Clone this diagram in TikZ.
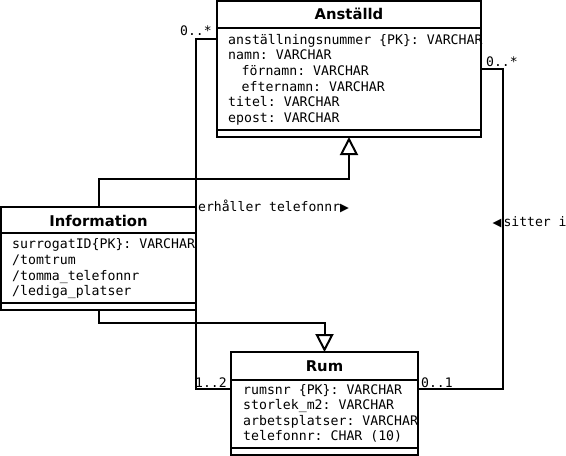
\documentclass[tikz,border=0pt]{standalone}
\usepackage{fontspec}
\setmainfont{DejaVu Sans}
\setsansfont{DejaVu Sans}
\setmonofont{DejaVu Sans Mono}
\newfontfamily\symfont{DejaVu Sans}
\usetikzlibrary{arrows.meta}
\begin{document}
\begin{tikzpicture}[x=1pt,y=-1pt,
  box/.style={draw, line width=2pt, inner sep=0pt, outer sep=0pt, fill=white},
  attr/.style={anchor=base west, inner sep=0pt, font=\ttfamily\fontsize{13.2}{16}\selectfont},
  ttl/.style={anchor=base, inner sep=0pt, font=\sffamily\bfseries\fontsize{14.8}{18}\selectfont},
  lbl/.style={anchor=base west, inner sep=0pt, font=\ttfamily\fontsize{13.1}{16}\selectfont},
  conn/.style={line width=2pt},
  gen/.style={line width=2pt, -{Triangle[open, length=18pt, width=18pt, fill=white]}}]
\useasboundingbox (0,0) rectangle (566,456);

% box positions
\path (349,69) node[minimum width=264pt, minimum height=136pt, inner sep=0pt, outer sep=0pt] (anst) {};
\path (98.5,258.5) node[minimum width=195pt, minimum height=103pt, inner sep=0pt, outer sep=0pt] (info) {};
\path (324.5,403.5) node[minimum width=187pt, minimum height=103pt, inner sep=0pt, outer sep=0pt] (rum) {};

% connector bend points
\coordinate (p1) at (196,39);
\coordinate (p2) at (196,389);
\coordinate (q1) at (503,69);
\coordinate (q2) at (503,389);
\coordinate (g1) at (349,179);
\coordinate (g2) at (324.5,323);

% connectors
\draw[conn] (anst.west |- p1) -- (p1) -- (p2) -- (rum.west |- p2);
\draw[conn] (anst.east |- q1) -- (q1) -- (q2) -- (rum.east |- q2);
\draw[gen] (info.north) |- (g1) -- (anst.south);
\draw[gen] (info.south) |- (g2) -- (rum.north);

% class Anställd
\node[box, minimum width=264pt, minimum height=136pt] (anstbox) at (anst.center) {};
\draw[conn] (anst.west |- 0,28) -- (anst.east |- 0,28);
\draw[conn] (anst.west |- 0,129.5) -- (anst.east |- 0,129.5);
\node[ttl] (anstt) at (349,19) {Anställd};
\node[attr] (a1) at (228,44) {anställningsnummer \{PK\}: VARCHAR};
\node[attr] (a2) at (228,59.7) {namn: VARCHAR};
\node[attr] (a3) at (241.5,75.4) {förnamn: VARCHAR};
\node[attr] (a4) at (241.5,91.1) {efternamn: VARCHAR};
\node[attr] (a5) at (228,106.8) {titel: VARCHAR};
\node[attr] (a6) at (228,122.5) {epost: VARCHAR};

% class Information
\node[box, minimum width=195pt, minimum height=103pt] (infobox) at (info.center) {};
\draw[conn] (info.west |- 0,233) -- (info.east |- 0,233);
\draw[conn] (info.west |- 0,303) -- (info.east |- 0,303);
\node[ttl] (infot) at (98.5,226) {Information};
\node[attr] (i1) at (12,248) {surrogatID\{PK\}: VARCHAR};
\node[attr] (i2) at (12,264) {/tomtrum};
\node[attr] (i3) at (12,280) {/tomma\_telefonnr};
\node[attr] (i4) at (12,295.5) {/lediga\_platser};

% class Rum
\node[box, minimum width=187pt, minimum height=103pt] (rumbox) at (rum.center) {};
\draw[conn] (rum.west |- 0,380) -- (rum.east |- 0,380);
\draw[conn] (rum.west |- 0,448) -- (rum.east |- 0,448);
\node[ttl] (rumt) at (324.5,371) {Rum};
\node[attr] (r1) at (243,394) {rumsnr \{PK\}: VARCHAR};
\node[attr] (r2) at (243,409.5) {storlek\_m2: VARCHAR};
\node[attr] (r3) at (243,425) {arbetsplatser: VARCHAR};
\node[attr] (r4) at (243,440.7) {telefonnr: CHAR (10)};

% labels
\node[lbl] (m1) at (180,35) {0..*};
\node[lbl] (m2) at (486,66) {0..*};
\node[lbl] (m3) at (195,387) {1..2};
\node[lbl] (m4) at (421,387) {0..1};
\node[lbl] (n1) at (198,211) {erhåller telefonnr{\symfont\fontsize{11.5}{11.5}\selectfont ▶}};
\node[lbl] (n2) at (492.5,226) {{\symfont\fontsize{11.5}{11.5}\selectfont ◀}\kern2pt sitter i};
\end{tikzpicture}
\end{document}
